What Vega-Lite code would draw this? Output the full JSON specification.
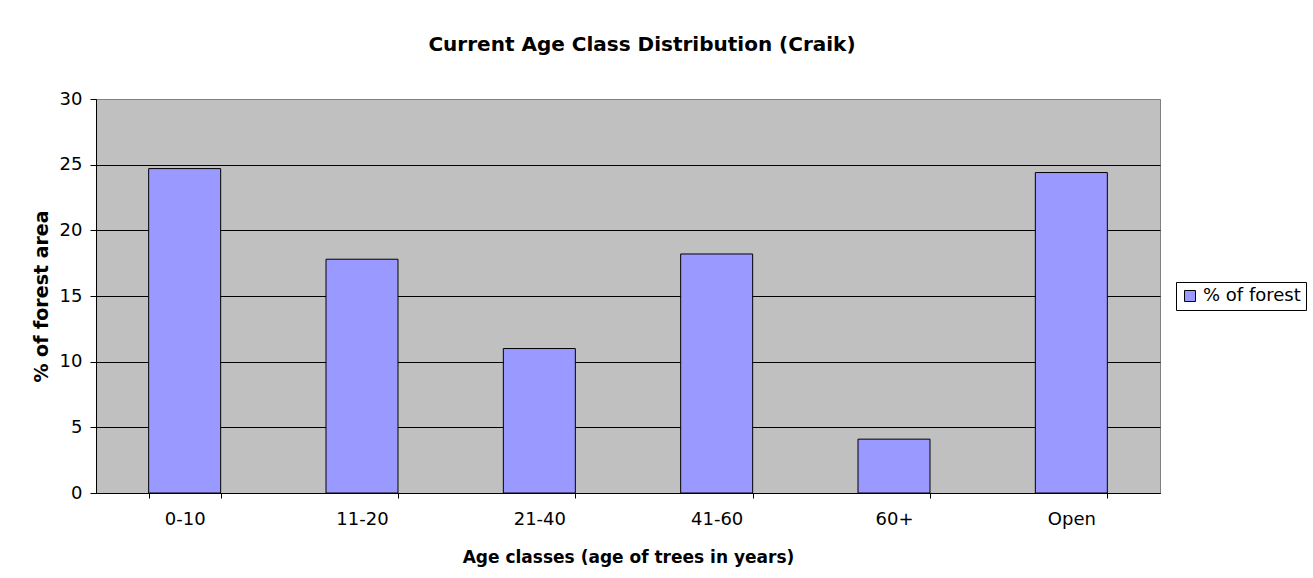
{
  "$schema": "https://vega.github.io/schema/vega-lite/v6.json",
  "autosize": {"type": "none"},
  "padding": {"left": 96, "top": 99, "right": 153, "bottom": 85},
  "width": 1064,
  "height": 394,
  "background": "white",
  "title": {
    "text": "Current Age Class Distribution (Craik)",
    "font": "DejaVu Sans",
    "fontSize": 20,
    "fontWeight": "bold",
    "color": "black",
    "anchor": "middle",
    "baseline": "alphabetic",
    "offset": 19,
    "dx": 14
  },
  "data": {
    "values": [
      {"age": "0-10", "pct": 24.7},
      {"age": "11-20", "pct": 17.8},
      {"age": "21-40", "pct": 11.0},
      {"age": "41-60", "pct": 18.2},
      {"age": "60+", "pct": 4.1},
      {"age": "Open", "pct": 24.4}
    ]
  },
  "mark": {"type": "bar", "stroke": "black", "strokeWidth": 1},
  "encoding": {
    "x": {
      "field": "age",
      "type": "nominal",
      "sort": null,
      "scale": {"paddingInner": 0.594, "paddingOuter": 0.297},
      "axis": {
        "title": "Age classes (age of trees in years)",
        "labelAngle": 0,
        "tickBand": "extent",
        "tickSize": 5,
        "tickColor": "black",
        "domainColor": "black",
        "labelPadding": 12,
        "titlePadding": 21,
        "grid": false
      }
    },
    "y": {
      "field": "pct",
      "type": "quantitative",
      "scale": {"domain": [0, 30], "nice": false},
      "axis": {
        "title": "% of forest area",
        "values": [0, 5, 10, 15, 20, 25, 30],
        "tickSize": 6,
        "tickColor": "black",
        "domainColor": "black",
        "labelPadding": 8,
        "titlePadding": 8,
        "titleFontSize": 19,
        "grid": true,
        "gridColor": {"condition": {"test": "datum.value == 30", "value": "#808080"}, "value": "black"},
        "gridOpacity": 1
      }
    },
    "color": {
      "datum": "% of forest",
      "type": "nominal",
      "scale": {"range": ["#9999FF"]},
      "legend": {
        "title": null,
        "orient": "none",
        "legendX": 1080,
        "legendY": 183,
        "symbolType": "square",
        "symbolSize": 121,
        "symbolStrokeColor": "black",
        "symbolStrokeWidth": 1,
        "symbolFillColor": "#9999FF",
        "labelFont": "DejaVu Sans",
        "labelFontSize": 18,
        "labelColor": "black",
        "strokeColor": "black",
        "fillColor": "white",
        "padding": 5
      }
    }
  },
  "config": {
    "font": "DejaVu Sans",
    "view": {"fill": "#C0C0C0", "stroke": "#808080", "strokeWidth": 1},
    "axis": {
      "labelFont": "DejaVu Sans",
      "labelFontSize": 18,
      "labelColor": "black",
      "titleFont": "DejaVu Sans",
      "titleFontSize": 17,
      "titleFontWeight": "bold",
      "titleColor": "black",
      "domainWidth": 1,
      "tickWidth": 1
    }
  }
}
